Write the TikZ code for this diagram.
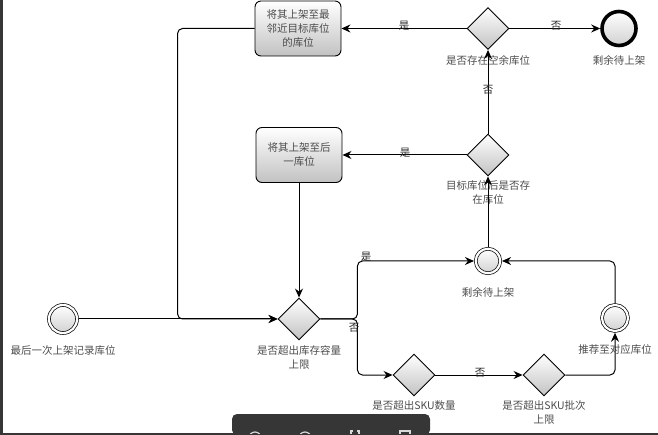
\documentclass[tikz,border=0pt]{standalone}
\usepackage{fontspec}
\setmainfont{Noto Sans CJK SC}
\usetikzlibrary{arrows.meta,positioning,shapes.geometric}

\begin{document}
\begin{tikzpicture}[
        x=1pt, y=-1pt,
        every node/.style={align=center, inner sep=0pt},
        task/.style  ={rectangle, rounded corners=6pt, draw=black, line width=0.9pt,
                       top color=white, bottom color=black!24,
                       text=black!70, font=\fontsize{10.5}{14}\selectfont,
                       minimum width=86pt, minimum height=55pt},
        gate/.style  ={diamond, aspect=1, draw=black, line width=0.9pt,
                       top color=white, bottom color=black!24,
                       minimum width=42pt, minimum height=42pt},
        evmid/.style ={circle, draw=black, line width=0.7pt,
                       double, double distance=2.2pt, outer sep=1.8pt,
                       top color=white, bottom color=black!18},
        evend/.style ={circle, draw=black, line width=3.6pt,
                       top color=white, bottom color=black!18,
                       minimum size=34pt},
        lbl/.style   ={text=black!70, font=\fontsize{10.5}{14}\selectfont},
        note/.style  ={text=black!85, font=\fontsize{10.5}{14}\selectfont},
        flow/.style  ={-{Stealth[length=9pt,width=8pt,inset=3pt]},
                       line width=1pt, rounded corners=5pt},
        chrome/.style={fill=black!79, draw=none},
    ]
        \useasboundingbox (0,0) rectangle (658,435);

        % ===================== Rahmen des Fensters =====================
        \fill[chrome] (0,0) rectangle (3,435);
        \fill[chrome] (0,433) rectangle (658,435);
        \fill[chrome, rounded corners=5pt] (232,435) -- (232,414) -- (430,414) -- (430,435) -- cycle;
        \begin{scope}
            \clip (232,414) rectangle (430,433);
            \draw[black!15, line width=1.2pt] (255,438) circle (6);
            \draw[black!15, line width=1.2pt] (305,438) circle (6);
            \draw[black!15, line width=1.2pt] (351,440) -- (351,431) -- (353,431)
                                               (359,440) -- (359,431) -- (357,431);
            \draw[black!15, line width=1.2pt] (400,440) rectangle (410,431);
        \end{scope}

        % ===================== Ereignisse =====================
        \node[evmid, minimum size=28pt] (st) at ( 63,319) {};
        \node[evmid, minimum size=24.5pt] (rm) at (488,261) {};
        \node[evmid, minimum size=26pt] (rc) at (615,318) {};
        \node[evend] (en) at (619,28.5) {};

        % ===================== Aufgaben =====================
        \node[task] (tb) at (298,28.5) {将其上架至最\\邻近目标库位\\的库位};
        \node[task] (tm) at (299,155) {将其上架至后\\一库位};

        % ===================== Gateways =====================
        \node[gate] (gw1) at (299,319) {};
        \node[gate] (gwe) at (488,28.5) {};
        \node[gate] (gwt) at (488,155) {};
        \node[gate] (gws) at (414,375) {};
        \node[gate] (gwb) at (544,375) {};

        % ===================== Beschriftungen =====================
        \node[lbl] (stl)  at ( 63,350) {最后一次上架记录库位};
        \node[lbl] (gw1l) at (299,357) {是否超出库存容量\\上限};
        \node[lbl] (gwel) at (488,60)  {是否存在空余库位};
        \node[lbl] (enl)  at (619,60)  {剩余待上架};
        \node[lbl] (gwtl) at (488,193) {目标库位后是否存\\在库位};
        \node[lbl] (rml)  at (488,292) {剩余待上架};
        \node[lbl] (rcl)  at (615,350) {推荐至对应库位};
        \node[lbl] (gwsl) at (414,406) {是否超出SKU数量};
        \node[lbl] (gwbl) at (544,413) {是否超出SKU批次\\上限};

        % ===================== Pfeile =====================
        \draw[flow] (st.east) -- (gw1.west);
        \draw[flow] (tb.west) -- ++(-77,0) |- (gw1.west);
        \draw[flow] (tm.south) -- (gw1.north);
        \draw[flow] (gw1.east) -- ++(37,0) |- (rm.west);
        \draw[flow] (gw1.east) -- ++(37,0) |- (gws.west);
        \draw[flow] (gws) -- (gwb);
        \draw[flow] (gwb.east) -| (rc.south);
        \draw[flow] (rc.north) |- (rm.east);
        \draw[flow] (rm) -- (gwt);
        \draw[flow] (gwt) -- (tm);
        \draw[flow] (gwt) -- (gwe);
        \draw[flow] (gwe) -- (tb);
        \draw[flow] (gwe) -- (en);

        % Kantenbeschriftungen.
        \node[note] (y1) at (404,26)  {是};
        \node[note] (n1) at (556,26)  {否};
        \node[note] (n2) at (488,90)  {否};
        \node[note] (y2) at (405,153) {是};
        \node[note] (y3) at (366,257) {是};
        \node[note] (n3) at (354,328) {否};
        \node[note] (n4) at (480,373) {否};
    \end{tikzpicture}
\end{document}
